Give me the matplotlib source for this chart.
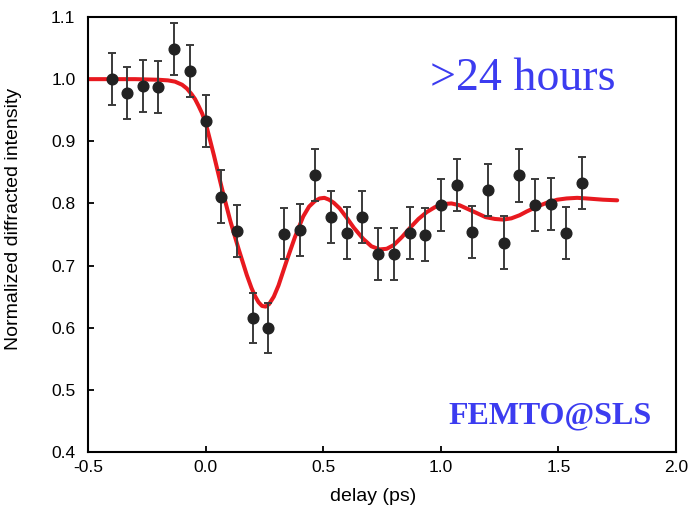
import matplotlib
matplotlib.use("Agg")
import matplotlib.pyplot as plt
import numpy as np

plt.rcParams['axes.unicode_minus'] = False

# measured points (delay in ps, normalized intensity)
delay = [-0.40, -0.334, -0.268, -0.201, -0.134, -0.067, 0.000, 0.067, 0.133, 0.200,
         0.267, 0.333, 0.400, 0.467, 0.533, 0.600, 0.667, 0.733, 0.800, 0.867,
         0.933, 1.000, 1.067, 1.133, 1.200, 1.267, 1.333, 1.400, 1.467, 1.533, 1.600]
intensity = [1.000, 0.978, 0.989, 0.988, 1.048, 1.013, 0.933, 0.811, 0.755, 0.616,
             0.600, 0.751, 0.757, 0.846, 0.778, 0.753, 0.778, 0.718, 0.718, 0.752,
             0.750, 0.798, 0.830, 0.754, 0.822, 0.737, 0.845, 0.797, 0.799, 0.752, 0.833]
err = [0.042, 0.042, 0.042, 0.042, 0.042, 0.042, 0.042, 0.042, 0.042, 0.040,
       0.040, 0.041, 0.042, 0.042, 0.042, 0.042, 0.042, 0.042, 0.042, 0.042,
       0.042, 0.042, 0.042, 0.042, 0.042, 0.042, 0.042, 0.042, 0.042, 0.042, 0.042]

# fit curve
fit_x = [-0.50, -0.30, -0.20, -0.16, -0.13, -0.10, -0.08, -0.06, -0.045, -0.03,
         -0.015, 0.000, 0.035, 0.070, 0.105, 0.140, 0.175, 0.195, 0.210, 0.225,
         0.240, 0.255, 0.270, 0.290, 0.310, 0.345, 0.380, 0.415, 0.440, 0.465,
         0.485, 0.505, 0.525, 0.545, 0.570, 0.600, 0.630, 0.670, 0.705, 0.740,
         0.770, 0.800, 0.835, 0.870, 0.905, 0.940, 0.975, 1.010, 1.045, 1.080,
         1.115, 1.150, 1.190, 1.230, 1.265, 1.300, 1.335, 1.365, 1.410, 1.450,
         1.495, 1.535, 1.580, 1.620, 1.690, 1.750]
fit_y = [1.000, 1.000, 0.999, 0.998, 0.996, 0.991, 0.985, 0.976, 0.968, 0.957,
         0.945, 0.930, 0.878, 0.823, 0.772, 0.727, 0.685, 0.664, 0.651, 0.641,
         0.635, 0.634, 0.638, 0.650, 0.668, 0.708, 0.746, 0.779, 0.795, 0.804,
         0.808, 0.809, 0.806, 0.801, 0.792, 0.777, 0.761, 0.743, 0.731, 0.726,
         0.727, 0.733, 0.746, 0.761, 0.775, 0.786, 0.794, 0.799, 0.800, 0.797,
         0.791, 0.785, 0.778, 0.775, 0.774, 0.776, 0.781, 0.787, 0.795, 0.801,
         0.806, 0.808, 0.809, 0.808, 0.806, 0.805]

xticks = [-0.5, 0.0, 0.5, 1.0, 1.5, 2.0]
yticks = [0.4, 0.5, 0.6, 0.7, 0.8, 0.9, 1.0, 1.1]

fig = plt.figure(figsize = (6.93, 5.14), dpi = 100)
ax = fig.add_axes([88 / 693, 62 / 514, 588 / 693, 435 / 514])

ax.plot(fit_x, fit_y, color = "#e8191f", lw = 2.9, zorder = 2,
        solid_joinstyle = "round", solid_capstyle = "round")
ax.errorbar(delay, intensity, yerr = err, fmt = "o", color = "#222222", ecolor = "#3a3a3a",
            markersize = 7.7, elinewidth = 1.4, capsize = 3.1, capthick = 1.4, zorder = 3)

ax.set_xlim(-0.5, 2.0)
ax.set_ylim(0.4, 1.1)
ax.set_xticks(xticks)
ax.set_yticks(yticks)
ax.set_xticklabels(["%.1f" % v for v in xticks])
ax.set_yticklabels(["%.1f" % v for v in yticks])

for s in ax.spines.values():
    s.set_linewidth(1.5)
ax.tick_params(direction = "in", length = 4.5, width = 1.3, labelsize = 12.5,
               top = False, right = False)
ax.tick_params(axis = "y", pad = 9)
ax.tick_params(axis = "x", pad = 6)
for lab in ax.get_xticklabels() + ax.get_yticklabels():
    lab.set_family("Liberation Sans")

ax.set_xlabel("delay (ps)", fontsize = 14, family = "Liberation Sans")
ax.set_ylabel("Normalized diffracted intensity", fontsize = 14, family = "Liberation Sans")
ax.xaxis.set_label_coords(0.485, -0.083)
ax.yaxis.set_label_coords(-0.112, 0.535)

ax.text(0.954, 0.982, ">24 hours", color = "#3c3cf0", fontsize = 33,
        family = "Liberation Serif", ha = "left", va = "baseline")
ax.text(1.031, 0.4454, "FEMTO@SLS", color = "#3c3cf0", fontsize = 23, fontweight = "bold",
        family = "Liberation Serif", ha = "left", va = "baseline")

plt.savefig("out.png", dpi = 100)
